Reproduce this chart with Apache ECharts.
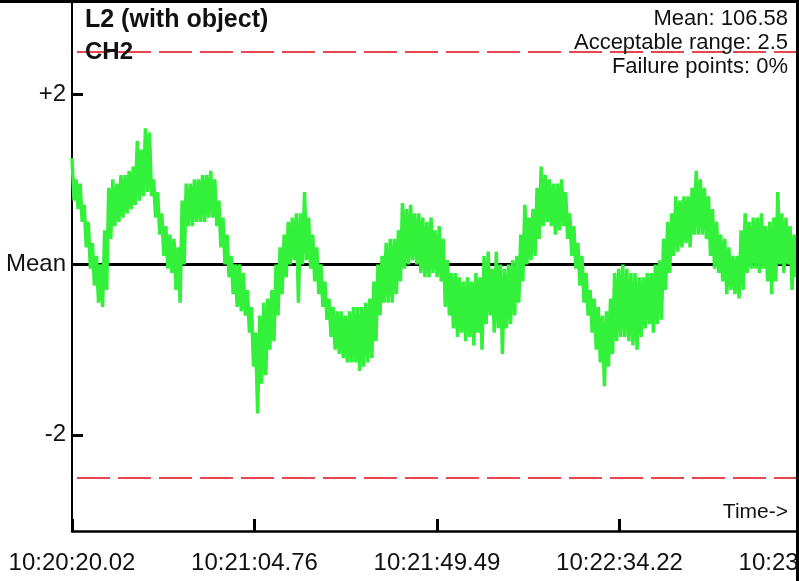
<!DOCTYPE html>
<html>
<head>
<meta charset="utf-8">
<script src="https://cdn.jsdelivr.net/npm/echarts@6/dist/echarts.min.js"></script>
<style>
  html, body { margin: 0; padding: 0; background: #fff; }
  #chart { width: 799px; height: 581px; }
</style>
</head>
<body>
<div id="chart"></div>
<script>
// x ticks (seconds from start) and their clock labels
const tickTimes = [0, 44.73, 89.46, 134.2, 178.93]
const tickLabels = ['10:20:20.02', '10:21:04.76', '10:21:49.49', '10:22:34.22', '10:23:18.95']

// y ticks (deviation from mean)
const yTicks = [-2, 0, 2]
const yTickLabels = ['-2', 'Mean', '+2']

const limits = [-2.5, 2.5]
const sampleStep = 1 // seconds between envelope readings

// noisy trace read as upper / lower edge of the band, one pair per second
const upperEdge = [
  1.25, 1.0, 0.95, 0.7, 0.5, 0.25, 0.1, 0.0, 0.4, 0.9,
  1.0, 0.95, 1.05, 1.05, 1.1, 1.15, 1.45, 1.35, 1.6, 1.55,
  1.0, 0.85, 0.6, 0.45, 0.35, 0.3, 0.2, 0.75, 0.95, 0.95,
  1.0, 1.0, 1.05, 1.05, 1.1, 1.0, 0.75, 0.55, 0.35, 0.1,
  0.0, 0.0, -0.1, -0.3, -0.5, -0.8, -0.6, -0.45, -0.4, -0.3,
  0.0, 0.2, 0.35, 0.5, 0.55, 0.6, 0.6, 0.85, 0.55, 0.35,
  0.2, 0.0, -0.2, -0.4, -0.5, -0.55, -0.55, -0.6, -0.55, -0.5,
  -0.5, -0.5, -0.45, -0.4, -0.2, 0.0, 0.1, 0.25, 0.3, 0.3,
  0.4, 0.72, 0.65, 0.7, 0.6, 0.6, 0.55, 0.5, 0.55, 0.4,
  0.45, 0.3, 0.05, -0.1, -0.1, -0.15, -0.2, -0.15, -0.2, -0.1,
  -0.15, 0.1, 0.15, -0.05, 0.15, 0.0, -0.05, 0.0, 0.05, 0.1,
  0.35, 0.7, 0.55, 0.65, 0.9, 1.15, 1.05, 1.0, 0.95, 0.95,
  1.0, 0.85, 0.6, 0.45, 0.25, 0.1, -0.1, -0.3, -0.4, -0.5,
  -0.6, -0.55, -0.4, -0.1, -0.05, 0.0, -0.05, -0.1, -0.1, -0.15,
  -0.15, -0.1, -0.1, 0.0, 0.05, 0.3, 0.5, 0.6, 0.8, 0.75,
  0.8, 0.8, 0.9, 1.1, 1.0, 0.9, 0.8, 0.65, 0.5, 0.35,
  0.3, 0.2, 0.1, 0.1, 0.4, 0.6, 0.5, 0.55, 0.55, 0.6,
  0.45, 0.5, 0.55, 0.85, 0.6, 0.55, 0.45, 0.35, 0.3
]
const lowerEdge = [
  0.75, 0.65, 0.5, 0.2, -0.05, -0.25, -0.45, -0.5, -0.3, 0.3,
  0.45, 0.5, 0.55, 0.6, 0.65, 0.7, 0.75, 0.8, 0.85, 0.8,
  0.55, 0.35, 0.1, -0.05, -0.1, -0.3, -0.45, 0.0, 0.45, 0.45,
  0.5, 0.5, 0.5, 0.55, 0.55, 0.45, 0.2, 0.0, -0.15, -0.35,
  -0.5, -0.55, -0.6, -0.8, -1.2, -1.75, -1.4, -1.3, -1.0, -0.9,
  -0.6, -0.35, -0.15, 0.0, 0.05, -0.45, 0.0, 0.05, -0.05, -0.2,
  -0.35, -0.5, -0.65, -0.85, -1.0, -1.05, -1.1, -1.15, -1.15, -1.15,
  -1.25, -1.2, -1.15, -1.1, -0.9, -0.6, -0.45, -0.45, -0.45, -0.35,
  -0.2, -0.05, 0.0, 0.05, 0.0, -0.1, -0.15, -0.15, -0.1, -0.15,
  -0.2, -0.5, -0.6, -0.75, -0.85, -0.8, -0.9, -0.85, -0.95, -0.8,
  -1.0, -0.7, -0.6, -0.8, -0.75, -1.05, -0.75, -0.7, -0.6, -0.45,
  -0.2, 0.0, 0.05, 0.1, 0.3, 0.45, 0.5, 0.45, 0.35, 0.4,
  0.45, 0.3, 0.1, -0.05, -0.25, -0.45, -0.6, -0.8, -1.0, -1.15,
  -1.43, -1.2, -1.05, -0.9, -0.85, -0.85, -0.9, -0.95, -1.0, -0.85,
  -0.75, -0.7, -0.8, -0.7, -0.65, -0.3, -0.1, 0.1, 0.15, 0.2,
  0.25, 0.2, 0.35, 0.35, 0.35, 0.3, 0.1, -0.05, -0.1, -0.2,
  -0.35, -0.3, -0.35, -0.4, -0.3, -0.1, -0.05, -0.05, -0.1, -0.05,
  -0.2, -0.35, -0.2, 0.0, -0.1, 0.0, -0.3, -0.15, -0.25
]

const infoLines = ['Mean: 106.58', 'Acceptable range: 2.5', 'Failure points: 0%']
const titleLines = ['L2 (with object)', 'CH2']

const fontFamily = '"Liberation Sans", Arial, sans-serif'

// alternate upper and lower edge half a second apart so the line fills the band
const traceData = []
upperEdge.forEach((hi, i) => {
  traceData.push([i * sampleStep, hi])
  traceData.push([i * sampleStep + sampleStep / 2, lowerEdge[i]])
})

const chart = echarts.init(document.getElementById('chart'))

const infoText = infoLines.map((text, i) => ({
  type: 'text',
  right: 11,
  top: 8 + i * 24,
  z: 10,
  style: { text, font: `22px ${fontFamily}`, fill: '#111' }
}))

chart.setOption({
  backgroundColor: '#fff',
  animation: false,
  grid: { left: 72, top: 3, width: 730, height: 528, outerBoundsMode: 'none', containLabel: false },
  xAxis: {
    type: 'value',
    min: 0,
    max: tickTimes[tickTimes.length - 1],
    axisLine: { onZero: false, lineStyle: { color: '#000', width: 2.5 } },
    axisTick: {
      customValues: tickTimes,
      inside: true,
      length: 12,
      lineStyle: { color: '#000', width: 3 }
    },
    axisLabel: {
      customValues: tickTimes,
      margin: 20,
      color: '#111',
      fontSize: 24,
      fontFamily,
      formatter: (v) => tickLabels[tickTimes.indexOf(v)] ?? ''
    },
    splitLine: { show: false }
  },
  yAxis: {
    type: 'value',
    min: -3.13,
    max: 3.07,
    axisLine: { show: true, onZero: false, lineStyle: { color: '#000', width: 2 } },
    axisTick: {
      show: true,
      customValues: yTicks,
      inside: true,
      length: 11,
      lineStyle: { color: '#000', width: 3 }
    },
    axisLabel: {
      customValues: yTicks,
      margin: 6,
      color: '#111',
      fontSize: 24,
      fontFamily,
      formatter: (v) => yTickLabels[yTicks.indexOf(v)] ?? ''
    },
    splitLine: { show: false }
  },
  series: [
    {
      type: 'line',
      data: traceData,
      showSymbol: false,
      lineStyle: { color: '#33f03a', width: 3.5 },
      z: 3,
      markLine: {
        silent: true,
        symbol: 'none',
        label: { show: false },
        z: 2,
        data: [
          { yAxis: 0, lineStyle: { color: '#000', width: 3, type: 'solid' } },
          ...limits.map((y) => ({
            yAxis: y,
            lineStyle: { color: '#e8464e', width: 2, type: [33, 8], dashOffset: -5 }
          }))
        ]
      }
    }
  ],
  graphic: [
    {
      type: 'rect',
      shape: { x: 0, y: 0, width: 799, height: 3 },
      style: { fill: '#000' },
      z: 20
    },
    {
      type: 'rect',
      shape: { x: 796, y: 0, width: 3, height: 581 },
      style: { fill: '#000' },
      z: 20
    },
    {
      type: 'text',
      left: 85,
      top: 8,
      z: 10,
      style: { text: titleLines[0], font: `bold 25px ${fontFamily}`, fill: '#111' }
    },
    {
      type: 'text',
      left: 85,
      top: 40,
      z: 10,
      style: { text: titleLines[1], font: `bold 24px ${fontFamily}`, fill: '#111' }
    },
    ...infoText,
    {
      type: 'text',
      right: 11,
      top: 502,
      z: 10,
      style: { text: 'Time->', font: `21px ${fontFamily}`, fill: '#111' }
    }
  ]
})
</script>
</body>
</html>
